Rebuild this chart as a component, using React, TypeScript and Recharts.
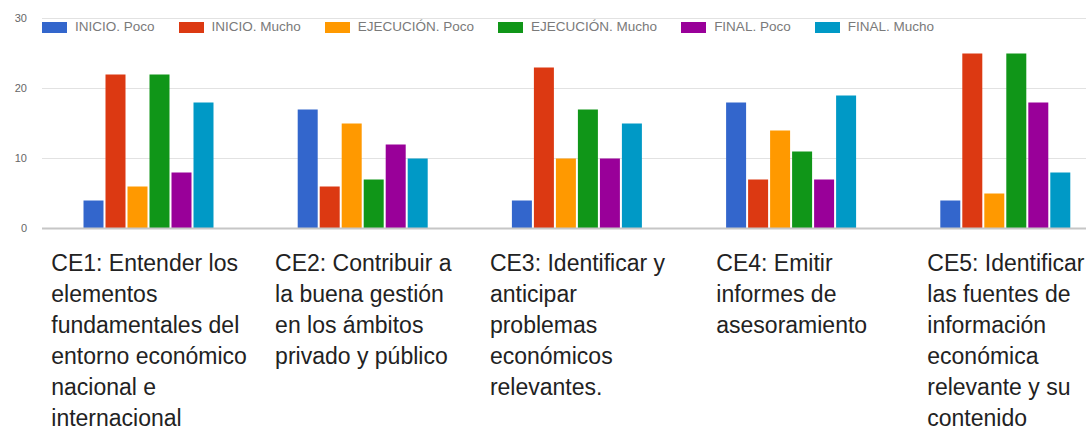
import React from 'react';
import { BarChart, Bar, XAxis, YAxis, CartesianGrid, Legend } from 'recharts';

const categories = ['CE1', 'CE2', 'CE3', 'CE4', 'CE5'];
const categoryLabelLines: string[][] = [
  ['CE1: Entender los', 'elementos', 'fundamentales del', 'entorno económico', 'nacional e', 'internacional'],
  ['CE2: Contribuir a', 'la buena gestión', 'en los ámbitos', 'privado y público'],
  ['CE3: Identificar y', 'anticipar', 'problemas', 'económicos', 'relevantes.'],
  ['CE4: Emitir', 'informes de', 'asesoramiento'],
  ['CE5: Identificar', 'las fuentes de', 'información', 'económica', 'relevante y su', 'contenido'],
];

const inicioPoco = [4, 17, 4, 18, 4];
const inicioMucho = [22, 6, 23, 7, 25];
const ejecucionPoco = [6, 15, 10, 14, 5];
const ejecucionMucho = [22, 7, 17, 11, 25];
const finalPoco = [8, 12, 10, 7, 18];
const finalMucho = [18, 10, 15, 19, 8];

const seriesKeys = ['inicioPoco', 'inicioMucho', 'ejecucionPoco', 'ejecucionMucho', 'finalPoco', 'finalMucho'];
const seriesNames = ['INICIO. Poco', 'INICIO. Mucho', 'EJECUCIÓN. Poco', 'EJECUCIÓN. Mucho', 'FINAL. Poco', 'FINAL. Mucho'];
const seriesColors = ['#3366cc', '#dc3912', '#ff9900', '#109618', '#990099', '#0099c6'];
const seriesValues = [inicioPoco, inicioMucho, ejecucionPoco, ejecucionMucho, finalPoco, finalMucho];

const yTicks = [0, 10, 20, 30];

const data = categories.map((name, i) => {
  const row: Record<string, string | number> = { name };
  seriesKeys.forEach((k, s) => {
    row[k] = seriesValues[s][i];
  });
  return row;
});

const LABEL_FONT_SIZE = 23;
const LABEL_FONT_FAMILY = 'Arial, "Liberation Sans", sans-serif';
const LINE_HEIGHT = 31;

let ctx: CanvasRenderingContext2D | null = null;
function measure(text: string): number {
  if (!ctx && typeof document !== 'undefined') {
    const c = document.createElement('canvas');
    ctx = c.getContext('2d');
  }
  if (!ctx) return text.length * LABEL_FONT_SIZE * 0.5;
  ctx.font = `${LABEL_FONT_SIZE}px Arial, "Liberation Sans", sans-serif`;
  return ctx.measureText(text).width;
}

const XTick = (props: any) => {
  const { x, y, payload } = props;
  const idx = categories.indexOf(payload.value);
  const lines = categoryLabelLines[idx] || [];
  const w = Math.max(...lines.map(measure));
  const left = x - w / 2;
  return (
    <text
      x={left}
      y={y}
      fontSize={LABEL_FONT_SIZE}
      fontFamily={LABEL_FONT_FAMILY}
      fill="#222222"
      textAnchor="start"
    >
      {lines.map((l, i) => (
        <tspan key={i} x={left} dy={i === 0 ? 42 : LINE_HEIGHT}>
          {l}
        </tspan>
      ))}
    </text>
  );
};

const renderLegend = () => (
  <div style={{ display: 'flex', alignItems: 'center', fontFamily: LABEL_FONT_FAMILY }}>
    {seriesNames.map((n, i) => (
      <div key={n} style={{ display: 'flex', alignItems: 'center', marginRight: 24 }}>
        <div style={{ width: 25, height: 11, background: seriesColors[i], marginRight: 8 }} />
        <span style={{ fontSize: 13.5, color: '#7a7a7a', whiteSpace: 'nowrap', lineHeight: '16px' }}>{n}</span>
      </div>
    ))}
  </div>
);

export default function App() {
  return (
    <div style={{ position: 'absolute', left: 0, top: 0, width: 1086, height: 429, overflow: 'hidden', background: '#fff' }}>
      <BarChart
        width={1120}
        height={429}
        data={data}
        margin={{ top: 18.5, right: 7, left: 0, bottom: 0 }}
        barCategoryGap={41.5}
        barGap={2}
      >
        <CartesianGrid vertical={false} stroke="#e2e2e2" />
        <XAxis
          dataKey="name"
          height={200.5}
          interval={0}
          tickLine={false}
          tickSize={0}
          tickMargin={0}
          axisLine={{ stroke: '#c6c6c6', strokeWidth: 2 }}
          tick={<XTick />}
        />
        <YAxis
          width={42}
          domain={[0, 30]}
          ticks={yTicks}
          axisLine={false}
          tickLine={false}
          tickSize={0}
          tickMargin={15}
          tick={{ fontSize: 11, fill: '#666666', fontFamily: LABEL_FONT_FAMILY }}
        />
        <Legend
          verticalAlign="middle"
          align="center"
          layout="horizontal"
          wrapperStyle={{ top: 19, left: 42, width: 'auto' }}
          content={renderLegend}
        />
        {seriesKeys.map((k, i) => (
          <Bar key={k} dataKey={k} name={seriesNames[i]} fill={seriesColors[i]} isAnimationActive={false} />
        ))}
      </BarChart>
    </div>
  );
}
